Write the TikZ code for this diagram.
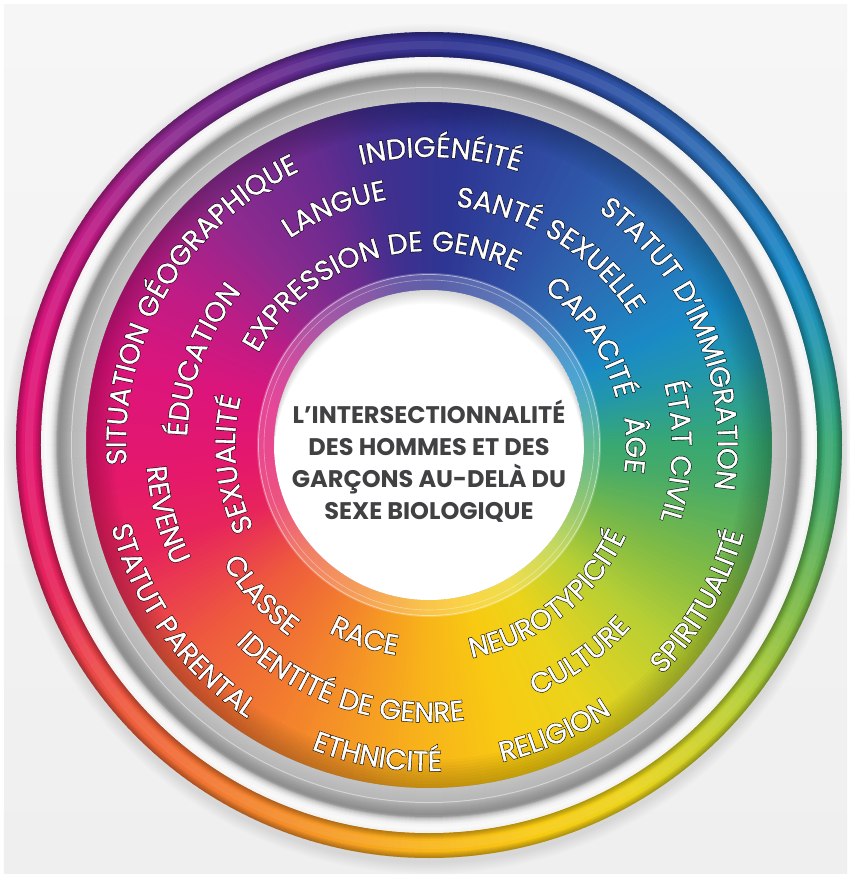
\documentclass[tikz,border=0pt]{standalone}
\usepackage{fontspec}
\usetikzlibrary{decorations.text}

\setmainfont{Poppins}
\newfontfamily\wheelfont{Poppins}[LetterSpace=3, FakeBold=1]
\newfontfamily\wheelbold{Poppins}[LetterSpace=3, FakeBold=5]

\definecolor{bgtop}{HTML}{F6F6F6}
\definecolor{bgbottom}{HTML}{EFEFEF}
\definecolor{titlegray}{HTML}{414042}
% hues round the wheel, by angle
\definecolor{c000}{HTML}{38A873}
\definecolor{c015}{HTML}{2196AE}
\definecolor{c025}{HTML}{1A8AC6}
\definecolor{c045}{HTML}{2D6CB4}
\definecolor{c065}{HTML}{2F4EA3}
\definecolor{c085}{HTML}{2E3592}
\definecolor{c100}{HTML}{432F8F}
\definecolor{c112}{HTML}{692B8F}
\definecolor{c130}{HTML}{8D2A8F}
\definecolor{c148}{HTML}{BF1C85}
\definecolor{c165}{HTML}{DC157C}
\definecolor{c185}{HTML}{E5186C}
\definecolor{c200}{HTML}{E7245C}
\definecolor{c220}{HTML}{EE5A3E}
\definecolor{c245}{HTML}{F3862B}
\definecolor{c268}{HTML}{F8B31A}
\definecolor{c285}{HTML}{F8CB12}
\definecolor{c300}{HTML}{EBD41B}
\definecolor{c320}{HTML}{B8CF34}
\definecolor{c335}{HTML}{80BB45}
\definecolor{c352}{HTML}{48AB67}

% one label on an arc: start angle, end angle, radius, text
\newcommand\ringtext[4]{%
  \path[ringoutline={#4}] (#1:#3) arc[start angle=#1, end angle=#2, radius=#3];
  \path[ringlabel={#4}] (#1:#3) arc[start angle=#1, end angle=#2, radius=#3];}

\begin{document}
\begin{tikzpicture}[x=1pt, y=1pt,
    ringlabel/.style={decorate, decoration={text along path, text align=center,
        text color=white, text={|\wheelfont\fontsize{28}{28}\selectfont|#1}}},
    ringoutline/.style={decorate, decoration={text along path, text align=center,
        text color=black, text={|\wheelbold\fontsize{28}{28}\selectfont|#1}}},
    heading/.style={align=center, text=titlegray, font=\bfseries\fontsize{24}{32}\selectfont}
]
\useasboundingbox (-429,-433) rectangle (421,445);
\fill[white] (-429,-433) rectangle (421,445);
\shade[top color=bgtop, bottom color=bgbottom] (-425,-428) rectangle (418,440);

% soft shadow under the wheel
\foreach \k in {1,...,8}
  \fill[black, opacity=0.012] (0,-4) circle (413+1.5*\k);

% colour wheel
\foreach \a/\b/\ca/\cb in {0/15/c000/c015, 15/25/c015/c025, 25/45/c025/c045,
    45/65/c045/c065, 65/85/c065/c085, 85/100/c085/c100, 100/112/c100/c112,
    112/130/c112/c130, 130/148/c130/c148, 148/165/c148/c165, 165/185/c165/c185,
    185/200/c185/c200, 200/220/c200/c220, 220/245/c220/c245, 245/268/c245/c268,
    268/285/c268/c285, 285/300/c285/c300, 300/320/c300/c320, 320/335/c320/c335,
    335/352/c335/c352, 352/360/c352/c000}{
  \pgfmathtruncatemacro\n{\b-\a-1}
  \foreach \t in {0,...,\n}{
    \pgfmathsetmacro\p{100*\t/(\b-\a)}
    \fill[\cb!\p!\ca] (0,0) -- (\a+\t:413) arc[start angle=\a+\t, end angle=\a+\t+1.4, radius=413] -- cycle;
  }
}

% outer band edges
\foreach \k in {0,...,5}{
  \fill[black, opacity=0.05, even odd rule] (0,0) circle (413) circle (412-\k);
  \fill[black, opacity=0.05, even odd rule] (0,0) circle (389+\k) circle (388);
}
\fill[white, opacity=0.08, even odd rule] (0,0) circle (404) circle (396);

% white band and silver ring: outer radius/inner radius/outer grey/inner grey
\foreach \ro/\ri/\go/\gi in {388/384/95/98, 384/380/98/96, 380/377/96/89,
    377/374/89/76, 374/372/76/60, 372/370/60/56, 370/366/56/60, 366/362/60/65,
    362/359/65/69, 359/358/69/84, 358/357/84/72, 357/350/72/74, 350/343/74/77}{
  \pgfmathtruncatemacro\n{\ro-\ri-1}
  \foreach \k in {0,...,\n}{
    \pgfmathsetmacro\v{\go+(\gi-\go)*\k/(\ro-\ri)}
    \pgfmathsetmacro\rout{\ro-\k}
    \pgfmathsetmacro\rin{max(\ro-\k-1.5,343)}
    \fill[white!\v!black, even odd rule] (0,0) circle (\rout) circle (\rin);
  }
}

% inner disc edge
\foreach \k in {0,...,9}
  \fill[black, opacity=0.025, even odd rule] (0,0) circle (343) circle (342-3*\k);

% centre
\fill[white, opacity=0.22] (0,0) circle (172);
\draw[white, opacity=0.5, line width=0.8] (0,0) circle (170.5);
\draw[white, opacity=0.4, line width=0.6] (0,0) circle (165);
\fill[white] (0,0) circle (155);
\begin{scope}
  \clip (0,0) circle (155);
  \foreach \k in {1,...,14}
    \fill[black, opacity=0.012, even odd rule] (0,0) circle (155) (0,-\k) circle (155);
\end{scope}

% labels, upper half
\ringtext{229.5}{69.5}{303}{SITUATION GÉOGRAPHIQUE}
\ringtext{167.7}{7.7}{288}{INDIGÉNÉITÉ}
\ringtext{102.7}{-57.3}{289}{STATUT D’IMMIGRATION}
\ringtext{191.8}{31.8}{249}{LANGUE}
\ringtext{138.2}{-21.8}{240}{SANTÉ SEXUELLE}
\ringtext{78.4}{-81.6}{243}{ÉTAT CIVIL}
\ringtext{239.4}{79.4}{242}{ÉDUCATION}
\ringtext{187.6}{27.6}{194}{EXPRESSION DE GENRE}
\ringtext{265.6}{105.6}{194}{SEXUALITÉ}
\ringtext{113.7}{-46.3}{193}{CAPACITÉ}
\ringtext{80}{-80}{197}{ÂGE}

% labels, lower half
\ringtext{114.9}{274.9}{283}{REVENU}
\ringtext{135.4}{295.4}{328}{STATUT PARENTAL}
\ringtext{141.8}{301.8}{237}{CLASSE}
\ringtext{171.6}{331.6}{277}{IDENTITÉ DE GENRE}
\ringtext{171.5}{331.5}{212.5}{RACE}
\ringtext{180.6}{340.6}{326}{ETHNICITÉ}
\ringtext{228.3}{388.3}{217}{NEUROTYPICITÉ}
\ringtext{225.5}{385.5}{272}{CULTURE}
\ringtext{213.6}{373.6}{325}{RELIGION}
\ringtext{249.9}{409.9}{327}{SPIRITUALITÉ}

\node[heading] (heading) at (0,-16) {L’INTERSECTIONNALITÉ\\DES HOMMES ET DES\\GARÇONS AU-DELÀ DU\\SEXE BIOLOGIQUE};
\end{tikzpicture}
\end{document}
